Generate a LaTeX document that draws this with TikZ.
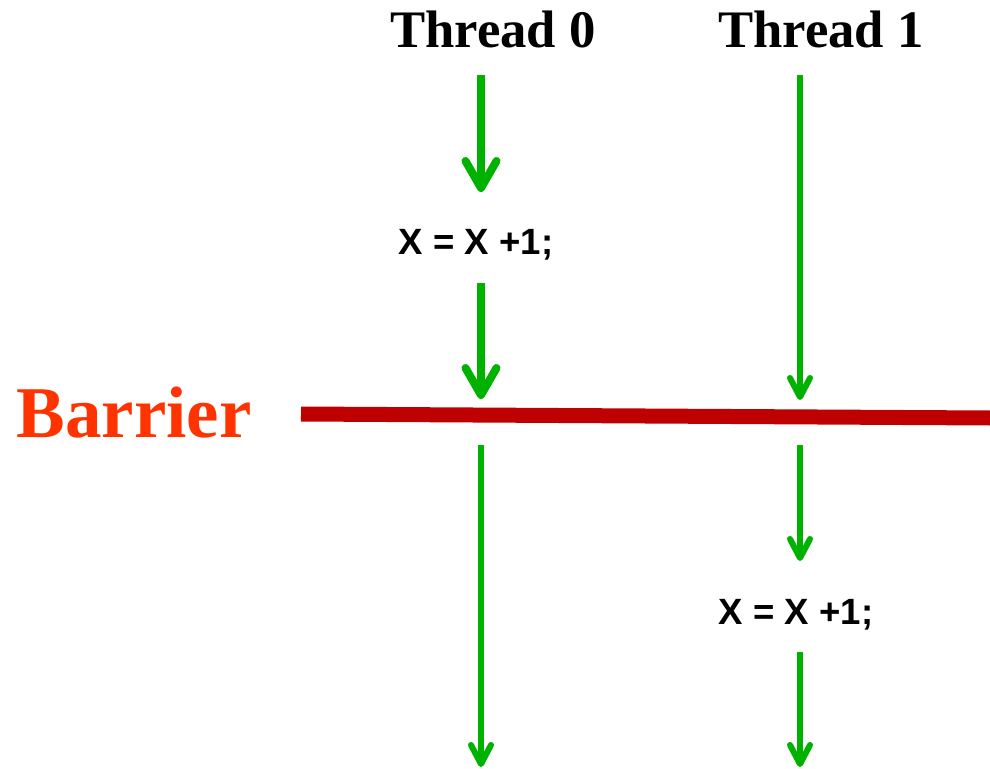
\documentclass[tikz,border=0pt]{standalone}
\usepackage{fontspec}
\setmainfont{Liberation Serif}
\newfontfamily\codefont{Liberation Sans}
\usetikzlibrary{arrows.meta}
\definecolor{flowgreen}{RGB}{0,178,0}
\definecolor{barrierred}{RGB}{190,0,0}
\definecolor{labelred}{RGB}{255,51,0}

\begin{document}
\begin{tikzpicture}[x=0.2mm, y=-0.2mm,
  thread/.style={anchor=base, font=\fontsize{30}{36}\selectfont\bfseries},
  code/.style={anchor=base, font=\codefont\fontsize{20.8}{24}\selectfont\bfseries},
  flow/.style={flowgreen, line width=1.2mm,
    -{Straight Barb[round, length=3.8mm, width=4mm]}},
  bigflow/.style={flowgreen, line width=1.6mm,
    -{Straight Barb[round, length=5.4mm, width=6.2mm]}}]
  \useasboundingbox (0,0) rectangle (990,769);

  \node[thread] (t0) at (493,48) {Thread 0};
  \node[thread] (t1) at (821,48) {Thread 1};
  \node[anchor=base, text=labelred, font=\fontsize{41.5}{48}\selectfont\bfseries]
    (bar) at (134,437) {Barrier};
  \node[code] (x0) at (476,255) {X = X +1;};
  \node[code] (x1) at (796,624) {X = X +1;};

  % the barrier line
  \coordinate (bl) at (301,414);
  \coordinate (br) at (990,418);
  \draw[barrierred, line width=3mm] (bl) -- (br);

  % thread 0
  \coordinate (a1) at (481,75);  \coordinate (a2) at (481,192);
  \coordinate (a3) at (481,283); \coordinate (a4) at (481,399);
  \coordinate (a5) at (481,445); \coordinate (a6) at (481,767);
  \draw[bigflow] (a1) -- (a2);
  \draw[bigflow] (a3) -- (a4);
  \draw[flow] (a5) -- (a6);

  % thread 1
  \coordinate (b1) at (800,75);  \coordinate (b2) at (800,400);
  \coordinate (b3) at (800,445); \coordinate (b4) at (800,561);
  \coordinate (b5) at (800,652); \coordinate (b6) at (800,767);
  \draw[flow] (b1) -- (b2);
  \draw[flow] (b3) -- (b4);
  \draw[flow] (b5) -- (b6);
\end{tikzpicture}
\end{document}
